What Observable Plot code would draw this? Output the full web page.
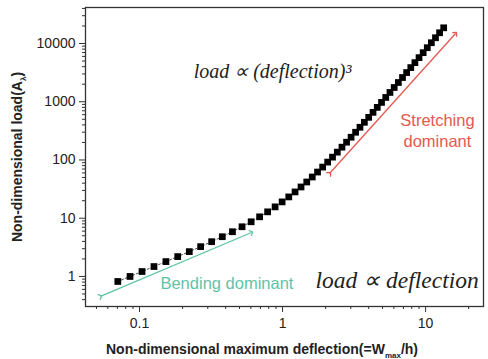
<!DOCTYPE html>
<html><head><meta charset="utf-8">
<script src="https://cdn.jsdelivr.net/npm/d3@7"></script>
<script src="https://cdn.jsdelivr.net/npm/@observablehq/plot@0.6"></script>
<style>
body{margin:0;background:#fff;}
#chart svg{display:block;}
</style></head><body><div id="chart"></div>
<script>
// Non-dimensional maximum deflection (W_max/h)
const deflection = [0.0705,0.0858,0.1041,0.1262,0.1529,0.1849,0.2228,0.2674,0.3193,0.379,
  0.4463,0.521,0.603,0.691,0.786,0.887,0.993,1.105,1.223,1.346,
  1.476,1.613,1.756,1.907,2.067,2.235,2.414,2.602,2.802,3.014,
  3.24,3.478,3.732,4.001,4.29,4.594,4.92,5.265,5.635,6.03,
  6.447,6.895,7.37,7.88,8.42,9.0,9.615,10.275,10.975,11.725,
  12.525,13.38];
// Non-dimensional load (A_lambda)
const load = [0.820,1.00,1.216,1.480,1.801,2.193,2.669,3.249,3.955,4.815,
  5.861,7.135,8.687,10.57,12.87,15.67,19.07,23.22,28.27,34.41,
  41.88,50.99,62.07,75.56,91.97,111.9,136.3,165.9,202.0,245.9,
  299.2,364.3,443.5,539.8,657.2,799.8,973.6,1185,1443,1756,
  2138,2603,3169,3857,4695,5715,6957,8469,10309,12550,
  15276,18597];

const xTicks = [0.1, 1, 10];
const xMinor = [0.05,0.06,0.07,0.08,0.09,0.2,0.3,0.4,0.5,0.6,0.7,0.8,0.9,2,3,4,5,6,7,8,9,20];
const yTicks = [1, 10, 100, 1000, 10000];
const yMinor = [0.4,0.5,0.6,0.7,0.8,0.9,2,3,4,5,6,7,8,9,20,30,40,50,60,70,80,90,
  200,300,400,500,600,700,800,900,2000,3000,4000,5000,6000,7000,8000,9000,20000,30000,40000];

// Annotations (data coordinates)
const bendArrow = [{x1: 0.0533, y1: 0.454, x2: 0.607, y2: 5.69}];
const stretchArrow = [{x1: 2.13, y1: 58.6, x2: 16.2, y2: 14860}];
const bendLabel = [{t: "Bending dominant", x: 0.140, y: 0.76}];
const stretchLabel = [{t: "Stretching\ndominant", x: 12.1, y: 334}];
const cubicFormula = [{t: "load \u221D (deflection)\u00B3", x: 0.239, y: 3300}];
const linearFormula = [{t: "load \u221D deflection", x: 1.70, y: 0.85}];

const data = deflection.map((d, i) => ({x: d, y: load[i]}));
const teal = "#5fc3a6", red = "#e4584f";
const serif = "'Liberation Serif', 'Times New Roman', serif";

const plot = Plot.plot({
  width: 488, height: 359,
  marginLeft: 85, marginRight: 5, marginTop: 7, marginBottom: 53,
  x: {type: "log", domain: [0.0419, 25.4]},
  y: {type: "log", domain: [0.305, 41500]},
  style: {fontFamily: "'Liberation Sans', Arial, sans-serif", fontSize: "14px", color: "#222", background: "#fff"},
  marks: [
    Plot.frame({stroke: "#333", strokeWidth: 1.3}),
    Plot.axisX(xMinor, {tickSize: 3, tickFormat: () => "", label: null, stroke: "#333"}),
    Plot.axisX(xTicks, {tickSize: 6, tickPadding: 6, tickFormat: d => String(d), label: null, stroke: "#333"}),
    Plot.axisY(yMinor, {tickSize: 3, tickFormat: () => "", label: null, stroke: "#333"}),
    Plot.axisY(yTicks, {tickSize: 6, tickPadding: 4, tickFormat: d => String(d), label: null, stroke: "#333"}),
    Plot.line(data, {x: "x", y: "y", stroke: "#222", strokeWidth: 0.8, strokeDasharray: "2,2"}),
    Plot.dot(data, {x: "x", y: "y", symbol: "square", r: 3.8, fill: "#000", stroke: "none"}),
    Plot.link(bendArrow, {x1: "x1", y1: "y1", x2: "x2", y2: "y2", stroke: teal, strokeWidth: 1.3, markerStart: "arrow", markerEnd: "arrow"}),
    Plot.link(stretchArrow, {x1: "x1", y1: "y1", x2: "x2", y2: "y2", stroke: red, strokeWidth: 1.3, markerStart: "arrow", markerEnd: "arrow"}),
    Plot.text(bendLabel, {x: "x", y: "y", text: "t", fill: teal, fontSize: 16.5, textAnchor: "start"}),
    Plot.text(stretchLabel, {x: "x", y: "y", text: "t", fill: red, fontSize: 16.5, textAnchor: "middle", lineHeight: 1.3}),
    Plot.text(cubicFormula, {x: "x", y: "y", text: "t", fill: "#222", fontSize: 20, fontStyle: "italic", fontFamily: serif, textAnchor: "start"}),
    Plot.text(linearFormula, {x: "x", y: "y", text: "t", fill: "#222", fontSize: 23.5, fontStyle: "italic", fontFamily: serif, textAnchor: "start"})
  ]
});

const svg = d3.select(plot);
const xl = svg.append("text")
  .attr("x", 262).attr("y", 354)
  .attr("text-anchor", "middle")
  .attr("font-family", "'Liberation Sans', Arial, sans-serif")
  .attr("font-weight", "bold").attr("font-size", 14).attr("fill", "#222");
xl.append("tspan").text("Non-dimensional maximum deflection(=W");
xl.append("tspan").attr("font-size", 8).attr("dy", 4).text("max");
xl.append("tspan").attr("dy", -4).text("/h)");

const yl = svg.append("text")
  .attr("transform", "translate(22,157) rotate(-90)")
  .attr("text-anchor", "middle")
  .attr("font-family", "'Liberation Sans', Arial, sans-serif")
  .attr("font-weight", "bold").attr("font-size", 14).attr("fill", "#222");
yl.append("tspan").text("Non-dimensional load(A");
yl.append("tspan").attr("font-size", 8).attr("dy", 4).text("\u03BB");
yl.append("tspan").attr("dy", -4).text(")");

document.getElementById("chart").appendChild(plot);
</script>
</body></html>
